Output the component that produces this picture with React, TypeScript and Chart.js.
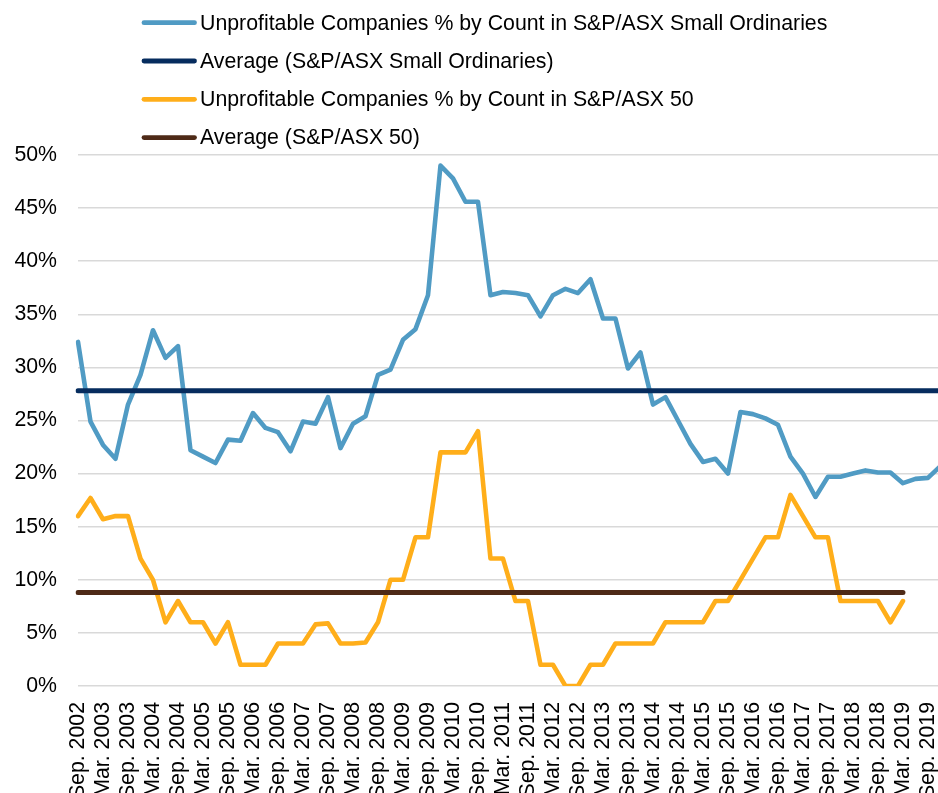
import React, { useEffect, useRef } from 'react';
import { Chart, registerables } from 'chart.js';

Chart.register(...registerables);

// Quarterly categories (labels shown every other quarter: Sep./Mar.)
const quarters = [
  'Sep. 2002', 'Dec. 2002',
  'Mar. 2003', 'Jun. 2003', 'Sep. 2003', 'Dec. 2003',
  'Mar. 2004', 'Jun. 2004', 'Sep. 2004', 'Dec. 2004',
  'Mar. 2005', 'Jun. 2005', 'Sep. 2005', 'Dec. 2005',
  'Mar. 2006', 'Jun. 2006', 'Sep. 2006', 'Dec. 2006',
  'Mar. 2007', 'Jun. 2007', 'Sep. 2007', 'Dec. 2007',
  'Mar. 2008', 'Jun. 2008', 'Sep. 2008', 'Dec. 2008',
  'Mar. 2009', 'Jun. 2009', 'Sep. 2009', 'Dec. 2009',
  'Mar. 2010', 'Jun. 2010', 'Sep. 2010', 'Dec. 2010',
  'Mar. 2011', 'Jun. 2011', 'Sep. 2011', 'Dec. 2011',
  'Mar. 2012', 'Jun. 2012', 'Sep. 2012', 'Dec. 2012',
  'Mar. 2013', 'Jun. 2013', 'Sep. 2013', 'Dec. 2013',
  'Mar. 2014', 'Jun. 2014', 'Sep. 2014', 'Dec. 2014',
  'Mar. 2015', 'Jun. 2015', 'Sep. 2015', 'Dec. 2015',
  'Mar. 2016', 'Jun. 2016', 'Sep. 2016', 'Dec. 2016',
  'Mar. 2017', 'Jun. 2017', 'Sep. 2017', 'Dec. 2017',
  'Mar. 2018', 'Jun. 2018', 'Sep. 2018', 'Dec. 2018',
  'Mar. 2019', 'Jun. 2019', 'Sep. 2019', 'Dec. 2019',
];

// Unprofitable companies % by count, S&P/ASX Small Ordinaries
const smallOrds = [
  32.4, 24.9, 22.7, 21.4, 26.5, 29.3, 33.5, 30.9, 32.0, 22.2,
  21.6, 21.0, 23.2, 23.1, 25.7, 24.3, 23.9, 22.1, 24.9, 24.7,
  27.2, 22.4, 24.7, 25.4, 29.3, 29.8, 32.6, 33.6, 36.8, 49.0,
  47.8, 45.6, 45.6, 36.8, 37.1, 37.0, 36.8, 34.8, 36.8, 37.4,
  37.0, 38.3, 34.6, 34.6, 29.9, 31.4, 26.5, 27.2, 25.0, 22.8,
  21.1, 21.4, 20.0, 25.8, 25.6, 25.2, 24.6, 21.6, 20.0, 17.8,
  19.7, 19.7, 20.0, 20.3, 20.1, 20.1, 19.1, 19.5, 19.6, 20.7,
];

// Unprofitable companies % by count, S&P/ASX 50
const asx50 = [
  16, 17.7, 15.7, 16, 16, 12, 10, 6, 8, 6,
  6, 4, 6, 2, 2, 2, 4, 4, 4, 5.8,
  5.9, 4, 4, 4.1, 6, 10, 10, 14, 14, 22,
  22, 22, 24, 12, 12, 8, 8, 2, 2, 0,
  0, 2, 2, 4, 4, 4, 4, 6, 6, 6,
  6, 8, 8, 10, 12, 14, 14, 18, 16, 14,
  14, 8, 8, 8, 8, 6, 8, null, null, null,
];

// Averages (drawn as flat lines between their first and last quarter)
const avgSmallOrds = 27.8;
const avgSmallOrdsSpan = ['Sep. 2002', 'Dec. 2019'];
const avgAsx50 = 8.8;
const avgAsx50Span = ['Sep. 2002', 'Mar. 2019'];

const seriesLabels = [
  'Unprofitable Companies % by Count in S&P/ASX Small Ordinaries',
  'Average (S&P/ASX Small Ordinaries)',
  'Unprofitable Companies % by Count in S&P/ASX 50',
  'Average (S&P/ASX 50)',
];

const FONT = '"Liberation Sans", Arial, Helvetica, sans-serif';
const FONT_SIZE = 21.3;
const CANVAS_W = 974;
const CANVAS_H = 820;

const legendPlugin = {
  id: 'verticalLegend',
  afterDraw(chart: any) {
    const ctx = chart.ctx;
    ctx.save();
    chart.data.datasets.forEach((ds: any, i: number) => {
      const y = 22.7 + i * 38.3;
      ctx.strokeStyle = ds.borderColor;
      ctx.lineWidth = 4.8;
      ctx.lineCap = 'round';
      ctx.beginPath();
      ctx.moveTo(144, y);
      ctx.lineTo(194.5, y);
      ctx.stroke();
      ctx.fillStyle = '#000';
      ctx.font = `${FONT_SIZE}px ${FONT}`;
      ctx.textAlign = 'left';
      ctx.textBaseline = 'middle';
      ctx.fillText(ds.label, 200, y + 1);
    });
    ctx.restore();
  },
};

export default function App() {
  const canvasRef = useRef<HTMLCanvasElement | null>(null);

  useEffect(() => {
    if (!canvasRef.current) return;
    const chart = new Chart(canvasRef.current, {
      type: 'line',
      data: {
        labels: quarters,
        datasets: [
          {
            label: seriesLabels[0],
            data: smallOrds,
            borderColor: '#509BC4',
            backgroundColor: '#509BC4',
            borderWidth: 4.6,
            pointRadius: 0,
            tension: 0,
            borderJoinStyle: 'round',
            borderCapStyle: 'round',
            order: 3,
          },
          {
            label: seriesLabels[1],
            data: avgSmallOrdsSpan.map((q) => ({ x: q, y: avgSmallOrds })),
            borderColor: '#062C5E',
            backgroundColor: '#062C5E',
            borderWidth: 5,
            pointRadius: 0,
            tension: 0,
            borderCapStyle: 'round',
            order: 2,
          },
          {
            label: seriesLabels[2],
            data: asx50,
            borderColor: '#FFAE1A',
            backgroundColor: '#FFAE1A',
            borderWidth: 4.6,
            pointRadius: 0,
            tension: 0,
            borderJoinStyle: 'round',
            borderCapStyle: 'round',
            order: 1,
          },
          {
            label: seriesLabels[3],
            data: avgAsx50Span.map((q) => ({ x: q, y: avgAsx50 })),
            borderColor: '#4E2A17',
            backgroundColor: '#4E2A17',
            borderWidth: 5,
            pointRadius: 0,
            tension: 0,
            borderCapStyle: 'round',
            order: 0,
          },
        ] as any,
      },
      options: {
        responsive: false,
        maintainAspectRatio: false,
        devicePixelRatio: 1,
        animation: false,
        layout: { padding: { top: 155, right: 0, bottom: 0, left: 0 } },
        plugins: {
          legend: { display: false },
          title: { display: false },
          tooltip: { enabled: false },
        },
        scales: {
          x: {
            type: 'category',
            offset: false,
            grid: { display: false },
            border: { display: false },
            afterFit: (s: any) => {
              s.height = CANVAS_H - 686;
            },
            ticks: {
              autoSkip: false,
              maxRotation: 90,
              minRotation: 90,
              padding: 8,
              color: '#000',
              font: { family: FONT, size: FONT_SIZE },
              callback: (_v: any, idx: number) => (idx % 2 === 0 ? quarters[idx] : ''),
            },
          },
          y: {
            min: 0,
            max: 50,
            afterFit: (s: any) => {
              s.width = 78;
            },
            grid: { color: '#d9d9d9', lineWidth: 1.5, drawTicks: false },
            border: { display: false },
            ticks: {
              stepSize: 5,
              padding: 21,
              color: '#000',
              font: { family: FONT, size: FONT_SIZE },
              callback: (v: any) => `${v}%`,
            },
          },
        },
      } as any,
      plugins: [legendPlugin],
    });
    return () => chart.destroy();
  }, []);

  return (
    <div
      style={{
        position: 'fixed',
        left: 0,
        top: 0,
        width: 938,
        height: 793,
        overflow: 'hidden',
        background: '#fff',
      }}
    >
      <canvas
        ref={canvasRef}
        width={CANVAS_W}
        height={CANVAS_H}
        style={{ position: 'absolute', left: 0, top: 0, width: CANVAS_W, height: CANVAS_H }}
      />
    </div>
  );
}
